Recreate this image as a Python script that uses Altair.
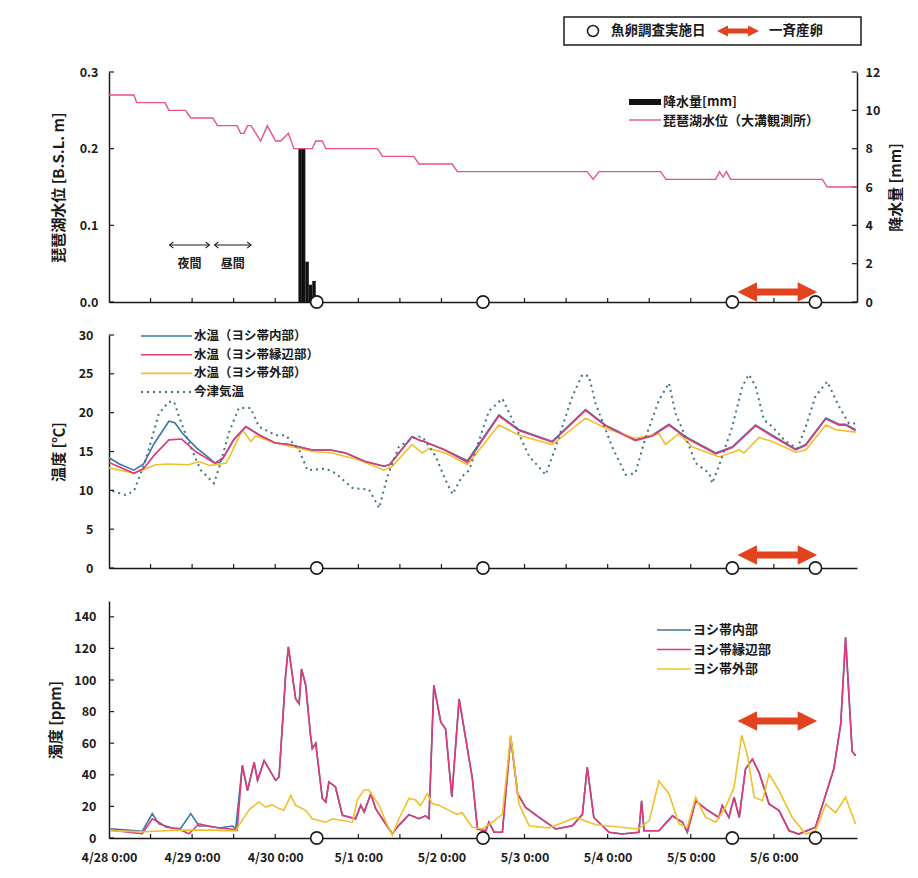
import json
import pandas as pd
import altair as alt

FONT = "Noto Sans CJK JP"
INK = "#1a1a1a"
RED = "#e3421f"
C_INNER = "#3b76a6"
C_EDGE = "#e0387a"
C_OUTER = "#f0c02a"
C_AIR = "#3d7488"
C_LEVEL = "#e8508c"

W = 748
H_TOP, H_MID, H_BOT = 230, 233, 237
X_MAX = 216

# ---------------- labels / categories ----------------
x_labels = ["4/28 0:00", "4/29 0:00", "4/30 0:00", "5/1 0:00", "5/2 0:00",
            "5/3 0:00", "5/4 0:00", "5/5 0:00", "5/6 0:00"]
x_ticks = list(range(0, X_MAX + 1, 12))
level_ticks = [0.0, 0.1, 0.2, 0.3]
rain_ticks = [0, 2, 4, 6, 8, 10, 12]
temp_ticks = [0, 5, 10, 15, 20, 25, 30]
turb_ticks = [0, 20, 40, 60, 80, 100, 120, 140]

temp_names = ["水温（ヨシ帯内部）", "水温（ヨシ帯縁辺部）", "水温（ヨシ帯外部）", "今津気温"]
turb_names = ["ヨシ帯内部", "ヨシ帯縁辺部", "ヨシ帯外部"]
top_names = ["降水量[mm]", "琵琶湖水位（大溝観測所）"]
key_names = ["魚卵調査実施日", "一斉産卵"]
daynight_names = ["夜間", "昼間"]

# ---------------- events (hours from 4/28 0:00) ----------------
survey_h = [60, 108, 180, 204]
spawn_span = [181.5, 204.5]
daynight_start = [17.5, 30.5]
daynight_end = [29.0, 41.0]

# ---------------- lake level (m) ----------------
level_h = [0, 7.2, 8.0, 16.2, 17.3, 22.1, 23.6, 30.0, 31.3, 37.0,
           38.0, 39.0, 40.0, 41.0, 43.8, 45.7, 48.1, 49.6, 51.8, 53.4,
           58.7, 59.7, 61.6, 62.6, 77.5, 79.0, 88.0, 89.5, 99.1, 100.6,
           138.1, 139.8, 141.5, 159.3, 160.8, 175.2, 176.3, 177.3, 178.3, 179.5,
           206.0, 207.4, 216]
level_m = [0.27, 0.27, 0.26, 0.26, 0.25, 0.25, 0.24, 0.24, 0.23, 0.23,
           0.22, 0.22, 0.23, 0.23, 0.21, 0.23, 0.21, 0.21, 0.22, 0.20,
           0.20, 0.21, 0.21, 0.20, 0.20, 0.19, 0.19, 0.18, 0.18, 0.17,
           0.17, 0.16, 0.17, 0.17, 0.16, 0.16, 0.17, 0.163, 0.17, 0.16,
           0.16, 0.15, 0.15]

# ---------------- rainfall (mm / hour) ----------------
rain_start = [54.7, 55.7, 56.7, 57.7, 58.7]
rain_end = [55.7, 56.7, 57.7, 58.7, 59.7]
rain_mm = [8.0, 8.0, 2.1, 0.9, 1.1]

# ---------------- temperatures (deg C) ----------------
temp_inner_h = [0, 3, 7.2, 10, 13, 17.3, 19, 21.5, 25.4, 28,
                30.6, 32, 33, 36, 39.5, 43.5, 48, 52, 58.7, 64,
                68.3, 74, 79.4, 81, 85, 87.5, 90, 91, 97, 103.5,
                112.6, 118.4, 128, 137.6, 143.4, 152, 156.9, 161.7, 166.5, 175.2,
                180, 186.7, 191.5, 198.3, 201.2, 207, 210.8, 212.7, 215.6]
temp_inner_v = [14.2, 13.4, 12.6, 13.4, 16.0, 18.9, 18.7, 17.2, 15.4, 14.5,
                13.5, 13.6, 14.2, 16.5, 18.2, 17.1, 16.1, 15.9, 15.2, 15.2,
                14.8, 13.7, 13.1, 13.3, 15.5, 16.9, 16.4, 16.3, 15.2, 13.8,
                19.7, 17.8, 16.3, 20.4, 18.4, 16.5, 17.1, 18.5, 16.9, 14.8,
                15.6, 18.4, 17.1, 15.3, 15.9, 19.3, 18.5, 18.5, 17.8]

temp_edge_h = [0, 3, 7.2, 10, 13, 17.3, 21, 25, 30.5, 33,
               36, 39.5, 43.5, 48, 52, 58.7, 64, 68.3, 74, 79.4,
               81, 85, 87.5, 90, 91, 97, 103.5, 112.6, 118.4, 128,
               137.6, 143.4, 152, 156.9, 161.7, 166.5, 175.2, 180, 186.7, 191.5,
               198.3, 201.2, 207, 210.8, 212.7, 215.6]
temp_edge_v = [13.6, 13.0, 12.2, 12.8, 14.5, 16.5, 16.6, 15.0, 13.5, 14.2,
               16.5, 18.2, 17.1, 16.1, 15.9, 15.2, 15.2, 14.8, 13.7, 13.1,
               13.3, 15.5, 16.9, 16.4, 16.3, 15.2, 13.6, 19.6, 17.7, 16.2,
               20.3, 18.3, 16.4, 17.0, 18.4, 16.8, 14.7, 15.5, 18.3, 17.0,
               15.2, 15.8, 19.2, 18.4, 18.4, 17.7]

temp_outer_h = [0, 7.2, 13.5, 17, 23, 26, 29, 33.7, 35, 38.5,
                41, 42.3, 48, 52.9, 58.7, 64.5, 72.2, 79.4, 81.8, 87.5,
                90.5, 92.4, 97.2, 103.5, 112.6, 118.4, 128, 137.6, 143.4, 152,
                158.8, 160.7, 164.6, 168.4, 176.1, 182, 183.4, 187.7, 191.5, 198.3,
                201.2, 207, 209.8, 215.6]
temp_outer_v = [12.9, 12.2, 13.3, 13.4, 13.3, 13.7, 13.2, 13.5, 14.5, 17.8,
                16.3, 17.0, 16.1, 15.6, 15.0, 14.8, 13.9, 12.6, 13.1, 15.9,
                14.8, 15.4, 14.8, 13.3, 18.4, 17.1, 15.9, 19.3, 18.0, 16.7,
                17.3, 15.9, 17.3, 15.6, 14.3, 15.2, 14.8, 16.8, 16.3, 14.9,
                15.2, 18.4, 17.8, 17.5]

air_h = [1, 4.8, 7.2, 10.6, 14.4, 17.3, 18.8, 20.2, 23.1, 26.5,
         30.3, 32.2, 34.6, 37.5, 40.9, 43.3, 48.1, 51, 54.9, 57.3,
         62.6, 65.4, 70.3, 75.1, 78, 80.4, 83.7, 88.5, 90.5, 94.3,
         97, 99.2, 102, 104, 109.7, 113.6, 116.5, 121.3, 126.1, 129,
         133.8, 136.7, 138.6, 140.5, 145.3, 149.2, 152, 155, 158.8, 161.7,
         163.6, 166.5, 169.4, 173.3, 174.2, 176.1, 180, 182.9, 184.8, 186.7,
         189.1, 191.5, 195.4, 198.8, 201.2, 204, 207.4, 210.8, 213.7, 215.6]
air_v = [9.9, 9.4, 9.9, 13.9, 19.9, 21.4, 21.4, 19.5, 16.1, 12.6,
         10.9, 13.5, 17.4, 20.6, 20.6, 18.2, 17.1, 17.1, 15.2, 12.6,
         12.8, 12.2, 10.3, 10.1, 7.7, 11.8, 15.6, 16.9, 16.9, 14.4,
         11.5, 9.5, 11.8, 12.6, 20.2, 21.8, 19.1, 14.4, 12.0, 15.6,
         22.1, 24.9, 24.7, 21.2, 15.6, 12.0, 12.2, 16.9, 21.6, 23.8,
         19.9, 16.9, 13.5, 12.2, 10.9, 13.1, 18.2, 23.4, 24.9, 23.4,
         19.1, 18.2, 16.3, 15.4, 18.2, 22.1, 24.0, 20.8, 18.6, 18.6]

# ---------------- turbidity (ppm) ----------------
turb_edge_h = [0.5, 9.6, 12.5, 14.4, 16.4, 20.2, 23.1, 26, 29.8, 35.6,
               37, 38.5, 40, 41.9, 42.9, 44.8, 48.1, 49.1, 51, 51.8,
               53.9, 54.9, 55.6, 56.8, 58.2, 58.7, 59.7, 61.6, 62.6, 63.5,
               65.4, 67.4, 71.2, 72.7, 73.7, 75.6, 77, 78.9, 81.8, 83.7,
               86.6, 89.5, 91.4, 92.4, 93.8, 95.8, 97.2, 99, 101.1, 104.9,
               106.4, 108.8, 109.7, 111.2, 113.6, 116, 118, 120.3, 124.2, 129,
               133.8, 136.7, 138.1, 140, 144.4, 148.2, 153, 153.8, 154.5, 158.8,
               162.7, 165.6, 167, 169.4, 172.3, 176.1, 177.1, 179, 180.5, 182,
               183.8, 185.8, 187.7, 189.1, 190.6, 193.5, 196.4, 199.2, 204, 209.3,
               211.3, 212.7, 214.6, 215.6]
turb_edge_v = [4.9, 2.7, 12.2, 10, 7, 5.5, 2.7, 9, 7, 5.5,
               4.9, 46, 30, 48, 36.5, 49, 36.5, 38.6, 103, 121,
               88, 85, 107, 96.7, 65, 56.6, 60, 25, 22.8, 35.5,
               32.3, 14.4, 12.2, 20.7, 16.5, 28, 18.6, 12.2, 2.7, 8,
               14.8, 12.2, 14, 12.2, 96.7, 73.5, 69, 26, 88, 38,
               5.7, 4.6, 10, 3.6, 3.6, 64, 28, 19.4, 13, 5.7,
               7.8, 15, 44.8, 13, 3.6, 2.5, 3.6, 23.6, 4.6, 4.6,
               14, 10, 3.6, 23.6, 18.4, 13, 20.5, 13, 25.8, 13,
               43.7, 50, 41.6, 32, 21.5, 17.3, 4.6, 2.5, 6.8, 43.7,
               72, 127, 55, 52]

# inner series: visible on its own until 4/29 12:00, afterwards hidden under the edge line
turb_inner_h = [0.5, 9.6, 12.5, 14.4, 18.3, 20.7, 23.6, 26, 28.9, 31.8, 35.6, 36.6] + turb_edge_h[11:]
turb_inner_v = [5.9, 4.2, 15.4, 8.9, 6.3, 6.0, 15.4, 7.6, 7.6, 6.3, 7.6, 6.0] + turb_edge_v[11:]

turb_outer_h = [0.5, 10, 20, 30, 36.6, 37.5, 40.5, 43.3, 45.2, 47.1,
                49.1, 50.5, 52.5, 53.9, 56.8, 58.7, 62.6, 64.5, 70.3, 71.7,
                73.6, 75, 78, 80, 81.8, 83.7, 85.2, 86.6, 88.5, 90,
                91.9, 93.4, 95.3, 98.2, 100.5, 102, 104.9, 107.8, 110.7, 113.6,
                116, 118.4, 121.3, 127, 134.8, 140.5, 153, 156, 158.8, 161.7,
                164.6, 167, 169.4, 172.3, 175.2, 178, 180.5, 182.7, 184.3, 186.3,
                188.7, 190.6, 193.5, 197.3, 201.2, 204, 207, 209.8, 212.7, 215.6]
turb_outer_v = [4.5, 4, 5, 5, 4.5, 8, 18, 22.8, 19.6, 21,
                18.6, 17.5, 27, 20.7, 17.5, 12.2, 10, 12.2, 10, 24,
                30.4, 30.4, 20.7, 10, 1.7, 12.2, 18.6, 25, 24, 20.5,
                28, 21.7, 20.7, 17.5, 15, 16, 6.8, 5.7, 10, 15,
                65, 21.5, 7.8, 6.3, 13, 8.4, 5.7, 11, 36, 28,
                8.9, 6.8, 25.8, 13, 10, 19.4, 32, 65, 53, 25.8,
                23.6, 40.5, 30, 13, 2.5, 4.6, 21.5, 16, 25.8, 8.9]

# ---------------- helpers ----------------
XS = alt.Scale(domain=[0, X_MAX], nice=False, zero=False)
LEVEL_S = alt.Scale(domain=[0, 0.3], nice=False)
RAIN_S = alt.Scale(domain=[0, 12], nice=False)
TEMP_S = alt.Scale(domain=[0, 30], nice=False)
TURB_S = alt.Scale(domain=[0, 150], nice=False)
dummy = pd.DataFrame({"k": [0]})

L_HEAD = "M0,0L2,-1L2,1Z"
R_HEAD = "M0,0L-2,-1L-2,1Z"


class Panel:
    """Holds the x / y encodings shared by every layer of one panel."""

    def __init__(self, xaxis, yscale, yaxis, ytitle, H):
        self.xaxis, self.yscale, self.yaxis, self.ytitle, self.H = xaxis, yscale, yaxis, ytitle, H

    def X(self, field):
        return alt.X(f"{field}:Q", scale=XS, axis=self.xaxis, title=None)

    def Y(self, field):
        return alt.Y(f"{field}:Q", scale=self.yscale, axis=self.yaxis, title=self.ytitle)

    def line(self, h, v, color, width=1.6, dash=None):
        kw = dict(color=color, strokeWidth=width, clip=True)
        if dash:
            kw["strokeDash"] = dash
        return alt.Chart(pd.DataFrame({"h": h, "v": v})).mark_line(**kw).encode(
            x=self.X("h"), y=self.Y("v"))

    def x_tick_marks(self):
        return alt.Chart(pd.DataFrame({"t": x_ticks[1:-1]})).mark_rule(
            color=INK, strokeWidth=1.2).encode(x=self.X("t"), y=alt.value(self.H), y2=alt.value(self.H - 4))

    def y_tick_marks(self, vals, left=True):
        x0, x1 = (0, 5) if left else (W, W - 5)
        return alt.Chart(pd.DataFrame({"v": vals})).mark_rule(color=INK, strokeWidth=1.2).encode(
            y=self.Y("v"), x=alt.value(x0), x2=alt.value(x1))

    def survey(self):
        return alt.Chart(pd.DataFrame({"h": survey_h})).mark_point(
            shape="circle", size=150, filled=True, fill="white", stroke=INK,
            strokeWidth=1.6, opacity=1).encode(x=self.X("h"), y=alt.value(self.H))

    def spawn_arrow(self, ypix):
        base = alt.Chart(pd.DataFrame({"a": [spawn_span[0]], "b": [spawn_span[1]]}))
        shaft = base.mark_rule(color=RED, strokeWidth=7, xOffset=10, x2Offset=-10).encode(
            x=self.X("a"), x2="b:Q", y=alt.value(ypix))
        lh = base.mark_point(shape=L_HEAD, size=380, filled=True, color=RED, opacity=1).encode(
            x=self.X("a"), y=alt.value(ypix))
        rh = base.mark_point(shape=R_HEAD, size=380, filled=True, color=RED, opacity=1).encode(
            x=self.X("b"), y=alt.value(ypix))
        return [shaft, lh, rh]


def ptext(x, y, s, size=12.5, align="left"):
    return alt.Chart(dummy).mark_text(
        text=s, align=align, baseline="middle", font=FONT, fontSize=size,
        fontWeight="bold", color=INK).encode(x=alt.value(x), y=alt.value(y))


def prule(x0, x1, y, color, width=1.6, dash=None):
    kw = dict(color=color, strokeWidth=width)
    if dash:
        kw["strokeDash"] = dash
    return alt.Chart(dummy).mark_rule(**kw).encode(
        x=alt.value(x0), x2=alt.value(x1), y=alt.value(y))


def left_axis(values, label_pad, title_pad, fmt=None):
    kw = dict(orient="left", values=values, labelPadding=label_pad, titlePadding=title_pad,
              minExtent=34, maxExtent=34)
    if fmt:
        kw["format"] = fmt
    return alt.Axis(**kw)


plain_xaxis = alt.Axis(values=x_ticks, labels=False, domain=True)

# ---------------- top panel ----------------
rain_p = Panel(plain_xaxis, RAIN_S,
               alt.Axis(orient="right", values=rain_ticks, labelPadding=8, titlePadding=7,
                        titleAngle=270, titleBaseline="top", minExtent=24, maxExtent=24),
               "降水量 [mm]", H_TOP)
rain_bars = alt.Chart(pd.DataFrame({"a": rain_start, "b": rain_end, "mm": rain_mm})).mark_rect(
    color="#111111").encode(x=rain_p.X("a"), x2="b:Q", y=rain_p.Y("mm"), y2=alt.datum(0))
rain_group = alt.layer(rain_bars, rain_p.y_tick_marks(rain_ticks, left=False))

lev_p = Panel(plain_xaxis, LEVEL_S, left_axis(level_ticks, 11, 9, ".1f"),
              "琵琶湖水位 [B.S.L. m]", H_TOP)

dn_df = pd.DataFrame({"a": daynight_start, "b": daynight_end, "name": daynight_names})
dn_df["mid"] = (dn_df["a"] + dn_df["b"]) / 2
dn_base = alt.Chart(dn_df)
dn_layers = [
    dn_base.mark_rule(color=INK, strokeWidth=1.1).encode(x=lev_p.X("a"), x2="b:Q", y=alt.value(173)),
    dn_base.mark_point(shape="M1.2,-1L0,0L1.2,1", size=40, filled=False, color=INK,
                       strokeWidth=1.1, opacity=1).encode(x=lev_p.X("a"), y=alt.value(173)),
    dn_base.mark_point(shape="M-1.2,-1L0,0L-1.2,1", size=40, filled=False, color=INK,
                       strokeWidth=1.1, opacity=1).encode(x=lev_p.X("b"), y=alt.value(173)),
    dn_base.mark_text(font=FONT, fontSize=12, fontWeight="bold", color=INK, baseline="middle").encode(
        x=lev_p.X("mid"), y=alt.value(192), text="name:N"),
]

top_legend = [
    alt.Chart(dummy).mark_rect(color="#111111").encode(
        x=alt.value(520), x2=alt.value(552), y=alt.value(27), y2=alt.value(33)),
    ptext(554, 30, top_names[0], 13),
    prule(520, 552, 48, C_LEVEL, 1.4),
    ptext(554, 49, top_names[1], 13),
]

key_box = [
    alt.Chart(dummy).mark_rect(fill="white", stroke=INK, strokeWidth=1.5).encode(
        x=alt.value(455), x2=alt.value(752), y=alt.value(-55), y2=alt.value(-27)),
    alt.Chart(dummy).mark_point(shape="circle", size=120, filled=True, fill="white", stroke=INK,
                                strokeWidth=1.5, opacity=1).encode(x=alt.value(484), y=alt.value(-41)),
    ptext(502, -41, key_names[0], 13.5),
    prule(614, 644, -41, RED, 5),
    alt.Chart(dummy).mark_point(shape=L_HEAD, size=120, filled=True, color=RED, opacity=1).encode(
        x=alt.value(608), y=alt.value(-41)),
    alt.Chart(dummy).mark_point(shape=R_HEAD, size=120, filled=True, color=RED, opacity=1).encode(
        x=alt.value(650), y=alt.value(-41)),
    ptext(660, -41, key_names[1], 13.5),
]

level_group = alt.layer(
    lev_p.line(level_h, level_m, C_LEVEL, 1.4),
    lev_p.y_tick_marks(level_ticks),
    lev_p.x_tick_marks(),
    *dn_layers,
    *top_legend,
    *key_box,
    *lev_p.spawn_arrow(220),
    lev_p.survey(),
)

top = alt.layer(rain_group, level_group).resolve_scale(y="independent").properties(
    width=W, height=H_TOP)

# ---------------- middle panel ----------------
mid_p = Panel(plain_xaxis, TEMP_S, left_axis(temp_ticks, 16, 9), "温度 [℃]", H_MID)
mid_legend = []
for i, (nm, col, dash) in enumerate(zip(temp_names, [C_INNER, C_EDGE, C_OUTER, C_AIR],
                                         [None, None, None, [2, 4]])):
    yy = 1 + i * 18.7
    mid_legend.append(prule(32, 83, yy, col, 2 if dash else 1.6, dash))
    mid_legend.append(ptext(85, yy, nm, 12.5))

mid = alt.layer(
    mid_p.line(temp_inner_h, temp_inner_v, C_INNER, 1.6),
    mid_p.line(temp_outer_h, temp_outer_v, C_OUTER, 1.6),
    mid_p.line(temp_edge_h, temp_edge_v, C_EDGE, 1.6),
    mid_p.line(air_h, air_v, C_AIR, 2, dash=[2, 4]),
    mid_p.y_tick_marks(temp_ticks),
    mid_p.x_tick_marks(),
    *mid_legend,
    *mid_p.spawn_arrow(220),
    mid_p.survey(),
).properties(width=W, height=H_MID)

# ---------------- bottom panel ----------------
label_expr = ("datum.value % 24 === 0 && datum.value < " + str(X_MAX) + " ? "
              + json.dumps(x_labels) + "[datum.value / 24] : ''")
bot_xaxis = alt.Axis(values=x_ticks, labelExpr=label_expr, labelFlush=False, labelOverlap=False,
                     labelPadding=13, domain=True)
bot_p = Panel(bot_xaxis, TURB_S, left_axis(turb_ticks, 13, 12), "濁度 [ppm]", H_BOT)
bot_legend = []
for i, (nm, col) in enumerate(zip(turb_names, [C_INNER, C_EDGE, C_OUTER])):
    yy = 29 + i * 19.5
    bot_legend.append(prule(548, 582, yy, col, 1.6))
    bot_legend.append(ptext(584, yy, nm, 13))

bot = alt.layer(
    bot_p.line(turb_inner_h, turb_inner_v, C_INNER, 1.6),
    bot_p.line(turb_edge_h, turb_edge_v, C_EDGE, 1.6),
    bot_p.line(turb_outer_h, turb_outer_v, C_OUTER, 1.6),
    bot_p.y_tick_marks(turb_ticks),
    bot_p.x_tick_marks(),
    *bot_legend,
    *bot_p.spawn_arrow(120),
    bot_p.survey(),
).properties(width=W, height=H_BOT)

chart = alt.vconcat(top, mid, bot, spacing=33, bounds="flush").properties(
    padding={"left": 40, "top": 8, "right": 4, "bottom": 4},
    background="white",
).configure_view(stroke=None).configure_axis(
    domainColor=INK, domainWidth=1.5, grid=False, ticks=False,
    labelFont=FONT, labelFontSize=12.5, labelFontWeight="bold", labelColor=INK,
    titleFont=FONT, titleFontSize=15, titleFontWeight="bold", titleColor=INK,
)

chart.save("out.html", embed_options={"renderer": "svg", "actions": False})
